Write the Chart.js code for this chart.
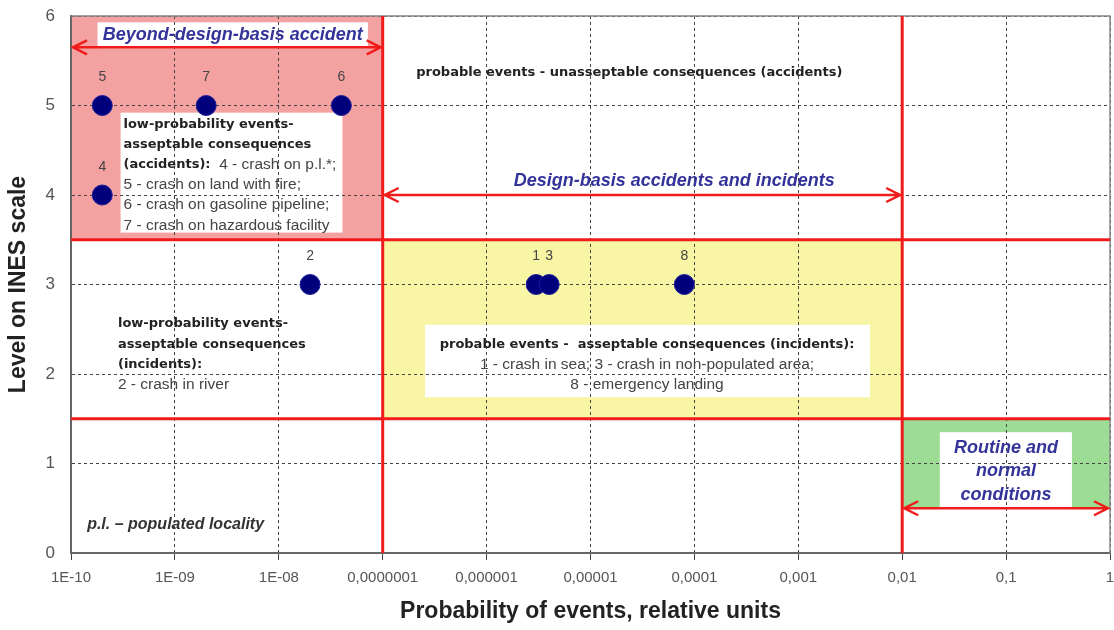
<!DOCTYPE html>
<html>
<head>
<meta charset="utf-8">
<script src="https://cdn.jsdelivr.net/npm/chart.js@4/dist/chart.umd.min.js"></script>
<style>
  html, body { margin: 0; padding: 0; background: #fff; }
  #wrap { width: 1114px; height: 630px; }
</style>
</head>
<body>
<div id="wrap"><canvas id="ines-chart" width="1114" height="630"></canvas></div>
<script>
// events: id, probability, INES level
const eventIds = ["1", "2", "3", "4", "5", "6", "7", "8"];
const eventProbability = [3e-6, 2e-8, 4e-6, 2e-10, 2e-10, 4e-8, 2e-9, 8e-5];
const eventLevel = [3, 3, 3, 4, 5, 5, 5, 3];

const xTickValues = [1e-10, 1e-9, 1e-8, 1e-7, 1e-6, 1e-5, 1e-4, 1e-3, 1e-2, 1e-1, 1];
const xTickLabels = ["1E-10", "1E-09", "1E-08", "0,0000001", "0,000001", "0,00001", "0,0001", "0,001", "0,01", "0,1", "1"];

// zones [probFrom, probTo, levelFrom, levelTo]
const zoneBeyond = [1e-10, 1e-7, 3.5, 6];
const zoneDesign = [1e-7, 1e-2, 1.5, 3.5];
const zoneRoutine = [1e-2, 1, 0.5, 1.5];

const boundaryProbs = [1e-7, 1e-2];
const boundaryLevels = [3.5, 1.5];

// arrows [probFrom, probTo, level]
const arrowBeyond = [1e-10, 1e-7, 5.65];
const arrowDesign = [1e-7, 1e-2, 4];
const arrowRoutine = [1e-2, 1, 0.5];

const fontFamily = "'Liberation Sans', Arial, sans-serif";
const boldNote = "bold 13px 'DejaVu Sans', Verdana, sans-serif";
const plainNote = "15.5px " + fontFamily;
const blueNote = "italic bold 18px " + fontFamily;
const noteColor = "#222";
const plainColor = "#444";
const blueColor = "#33339a";

// white label boxes [probFrom, probTo, levelFrom, levelTo]
const labelBoxes = [
  [1.8e-10, 7.2e-8, 5.64, 5.93],
  [3e-10, 4.1e-8, 3.58, 4.92],
  [2.55e-7, 4.9e-3, 1.74, 2.55],
  [0.023, 0.43, 0.51, 1.35]
];

const notes = [
  { prob: 3.6e-9, level: 5.785, align: "center", step: 20, lines: [[["Beyond-design-basis accident", blueNote, blueColor]]] },
  { prob: 3.2e-10, level: 4.79, align: "left", step: 20.2, lines: [
    [["low-probability events-", boldNote, noteColor]],
    [["asseptable consequences", boldNote, noteColor]],
    [["(accidents):", boldNote, noteColor], ["  4 - crash on p.l.*;", plainNote, plainColor]],
    [["5 - crash on land with fire;", plainNote, plainColor]],
    [["6 - crash on gasoline pipeline;", plainNote, plainColor]],
    [["7 - crash on hazardous facility", plainNote, plainColor]]
  ] },
  { prob: 2.1e-7, level: 5.37, align: "left", step: 20, lines: [[["probable events - unasseptable consequences (accidents)", boldNote, noteColor]]] },
  { prob: 6.4e-5, level: 4.16, align: "center", step: 20, lines: [[["Design-basis accidents and incidents", blueNote, blueColor]]] },
  { prob: 2.83e-10, level: 2.56, align: "left", step: 20.3, lines: [
    [["low-probability events-", boldNote, noteColor]],
    [["asseptable consequences", boldNote, noteColor]],
    [["(incidents):", boldNote, noteColor]],
    [["2 - crash in river", plainNote, plainColor]]
  ] },
  { prob: 3.5e-5, level: 2.324, align: "center", step: 20, lines: [
    [["probable events -  asseptable consequences (incidents):", boldNote, noteColor]],
    [["1 - crash in sea; 3 - crash in non-populated area;", plainNote, plainColor]],
    [["8 - emergency landing", plainNote, plainColor]]
  ] },
  { prob: 0.1, level: 1.173, align: "center", step: 23.5, lines: [
    [["Routine and", blueNote, blueColor]],
    [["normal", blueNote, blueColor]],
    [["conditions", blueNote, blueColor]]
  ] },
  { prob: 1.43e-10, level: 0.313, align: "left", step: 20, lines: [[["p.l. – populated locality", "italic bold 16px " + fontFamily, "#333"]]] }
];

function zoneRect(chart, zone) {
  const { x, y } = chart.scales;
  const left = x.getPixelForValue(zone[0]);
  const right = x.getPixelForValue(zone[1]);
  const top = y.getPixelForValue(zone[3]);
  const bottom = y.getPixelForValue(zone[2]);
  return [left, top, right - left, bottom - top];
}

function drawArrow(ctx, chart, arrow) {
  const { x, y } = chart.scales;
  const x0 = x.getPixelForValue(arrow[0]) + 2;
  const x1 = x.getPixelForValue(arrow[1]) - 2;
  const yy = y.getPixelForValue(arrow[2]);
  ctx.beginPath();
  ctx.moveTo(x0, yy);
  ctx.lineTo(x1, yy);
  ctx.moveTo(x0 + 14, yy - 7);
  ctx.lineTo(x0, yy);
  ctx.lineTo(x0 + 14, yy + 7);
  ctx.moveTo(x1 - 14, yy - 7);
  ctx.lineTo(x1, yy);
  ctx.lineTo(x1 - 14, yy + 7);
  ctx.stroke();
}

function drawLine(ctx, parts, x, y, align) {
  let total = 0;
  parts.forEach(([text, font]) => {
    ctx.font = font;
    total += ctx.measureText(text).width;
  });
  let cx = align === "center" ? x - total / 2 : x;
  parts.forEach(([text, font, color]) => {
    ctx.font = font;
    ctx.fillStyle = color;
    ctx.fillText(text, cx, y);
    cx += ctx.measureText(text).width;
  });
}

const inesPlugin = {
  id: "inesZones",
  beforeDraw(chart) {
    const ctx = chart.ctx;
    ctx.save();
    ctx.fillStyle = "#fff";
    ctx.fillRect(0, 0, chart.width, chart.height);
    ctx.fillStyle = "#f3a1a1";
    ctx.fillRect(...zoneRect(chart, zoneBeyond));
    ctx.fillStyle = "#f8f5a4";
    ctx.fillRect(...zoneRect(chart, zoneDesign));
    ctx.fillStyle = "#9ddc95";
    ctx.fillRect(...zoneRect(chart, zoneRoutine));
    ctx.fillStyle = "#fff";
    labelBoxes.forEach((box) => ctx.fillRect(...zoneRect(chart, box)));
    ctx.restore();
  },
  beforeDatasetsDraw(chart) {
    const { ctx, chartArea } = chart;
    const { x, y } = chart.scales;
    ctx.save();
    ctx.strokeStyle = "#888";
    ctx.lineWidth = 1.5;
    ctx.beginPath();
    ctx.moveTo(chartArea.left, chartArea.top);
    ctx.lineTo(chartArea.right, chartArea.top);
    ctx.lineTo(chartArea.right, chartArea.bottom);
    ctx.stroke();

    ctx.strokeStyle = "#f01c1c";
    ctx.lineWidth = 3;
    boundaryLevels.forEach((level) => {
      const yy = y.getPixelForValue(level);
      ctx.beginPath();
      ctx.moveTo(chartArea.left, yy);
      ctx.lineTo(chartArea.right, yy);
      ctx.stroke();
    });
    boundaryProbs.forEach((prob) => {
      const xx = x.getPixelForValue(prob);
      ctx.beginPath();
      ctx.moveTo(xx, chartArea.top);
      ctx.lineTo(xx, chartArea.bottom);
      ctx.stroke();
    });
    ctx.lineWidth = 2.5;
    [arrowBeyond, arrowDesign, arrowRoutine].forEach((a) => drawArrow(ctx, chart, a));
    ctx.restore();
  },
  afterDraw(chart) {
    const ctx = chart.ctx;
    const { x, y } = chart.scales;
    ctx.save();
    ctx.textBaseline = "middle";
    ctx.textAlign = "left";
    notes.forEach((note) => {
      const nx = x.getPixelForValue(note.prob);
      const ny = y.getPixelForValue(note.level);
      note.lines.forEach((parts, i) => drawLine(ctx, parts, nx, ny + i * note.step, note.align));
    });
    ctx.font = "14px " + fontFamily;
    ctx.fillStyle = "#444";
    ctx.textAlign = "center";
    eventIds.forEach((id, i) => {
      const px = x.getPixelForValue(eventProbability[i]);
      const py = y.getPixelForValue(eventLevel[i]) - 28;
      ctx.fillText(id, px, py);
    });
    ctx.restore();
  }
};

new Chart(document.getElementById("ines-chart"), {
  type: "scatter",
  data: {
    datasets: [{
      data: eventProbability.map((p, i) => ({ x: p, y: eventLevel[i] })),
      backgroundColor: "#00007c",
      borderColor: "#1d1d9c",
      borderWidth: 1,
      pointRadius: 10,
      pointHoverRadius: 10
    }]
  },
  options: {
    responsive: false,
    animation: false,
    devicePixelRatio: 1,
    layout: { autoPadding: false, padding: { top: 16, right: 4, left: 0, bottom: 0 } },
    plugins: { legend: { display: false }, tooltip: { enabled: false } },
    scales: {
      x: {
        type: "logarithmic",
        min: 1e-10,
        max: 1,
        afterBuildTicks(axis) {
          axis.ticks = xTickValues.map((v) => ({ value: v }));
        },
        afterFit(axis) {
          axis.height = 77;
          axis.paddingLeft = 0;
          axis.paddingRight = 0;
        },
        ticks: {
          autoSkip: false,
          maxRotation: 0,
          color: "#555",
          padding: 9,
          font: { size: 15, family: fontFamily },
          callback: (value, index) => xTickLabels[index]
        },
        grid: { color: "#444", lineWidth: 1, tickLength: 7 },
        border: { color: "#666", width: 2, dash: [3, 3] },
        title: {
          display: true,
          text: "Probability of events, relative units",
          color: "#222",
          font: { size: 23, weight: "bold", family: fontFamily },
          padding: { top: 0, bottom: 5 }
        }
      },
      y: {
        min: 0,
        max: 6,
        afterFit(axis) {
          axis.width = 71;
          axis.paddingTop = 0;
          axis.paddingBottom = 0;
        },
        ticks: {
          stepSize: 1,
          color: "#555",
          padding: 16,
          font: { size: 17, family: fontFamily }
        },
        grid: { color: "#444", lineWidth: 1, drawTicks: false },
        border: { color: "#666", width: 2, dash: [3, 3] },
        title: {
          display: true,
          text: "Level on INES scale",
          color: "#222",
          font: { size: 23, weight: "bold", family: fontFamily },
          padding: { top: 5, bottom: 0 }
        }
      }
    }
  },
  plugins: [inesPlugin]
});
</script>
</body>
</html>
